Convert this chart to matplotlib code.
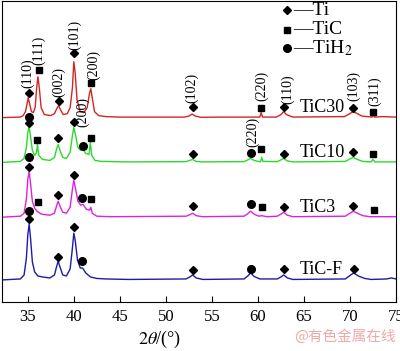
import matplotlib.pyplot as plt

plt.rcParams['font.family'] = ['Liberation Serif', 'DejaVu Serif']
plt.rcParams['mathtext.fontset'] = 'stix'

# XRD patterns: 2theta and intensity above each baseline (a.u.)
tic30_x = [32.2, 34.2, 34.5, 34.75, 34.95, 35.05, 35.2, 35.4, 35.6, 35.8, 35.95, 36.1, 36.25,
           36.45, 36.8, 37.5, 37.9, 38.15, 38.35, 38.55, 38.85, 39.3, 39.6, 39.85, 40.0, 40.15,
           40.35, 40.7, 41.1, 41.45, 41.7, 41.85, 42.0, 42.25, 42.7, 43.5, 45.0, 52.0, 52.5,
           52.85, 53.2, 53.8, 56.0, 60.2, 60.35, 60.5, 62.0, 62.5, 62.8, 63.1, 63.8, 69.4,
           70.0, 70.3, 70.7, 71.3, 72.4, 72.5, 72.65, 73.5, 75.0]
tic30_y = [0, 0.5, 2, 6, 15, 20, 14, 6, 5, 10, 28, 41, 30,
           10, 3, 2, 4, 9, 12, 8, 3, 4, 10, 30, 56, 45,
           18, 6, 5, 10, 24, 29, 20, 6, 2, 1, 0.5, 0.5, 1.5,
           3.5, 1.5, 0.3, 0.5, 0.5, 5, 0.5, 0.5, 3, 6, 3, 0.5, 1,
           4, 6, 4.5, 1.5, 0.5, 3, 0.5, 1, 0.5]

tic10_x = [32.2, 34.2, 34.6, 34.85, 35.0, 35.15, 35.3, 35.5, 35.75, 35.95, 36.05, 36.2, 36.6,
           37.4, 37.9, 38.15, 38.3, 38.5, 38.8, 39.2, 39.6, 39.85, 40.0, 40.2, 40.45, 40.75,
           41.0, 41.3, 41.65, 41.8, 41.95, 42.3, 43.0, 46.0, 52.2, 52.6, 52.9, 53.3, 54.0,
           58.5, 58.9, 59.2, 59.6, 60.1, 60.3, 60.4, 60.55, 62.1, 62.5, 62.8, 63.2, 63.8,
           69.5, 70.0, 70.35, 70.8, 71.4, 72.3, 72.5, 72.7, 75.0]
tic10_y = [0, 1, 4, 15, 30, 36, 26, 12, 7, 10, 18, 7, 3,
           2, 5, 14, 18, 12, 5, 4, 10, 27, 35, 27, 15, 12,
           13, 9, 8, 20, 7, 2, 1, 0.5, 0.8, 2, 3, 1, 0.5,
           0.8, 2.5, 4, 2, 0.8, 0.8, 5, 1, 0.8, 2.5, 4, 1.5, 0.5,
           1, 3.5, 5, 3, 1, 0.5, 3, 0.5, 0.5]

tic3_x = [32.2, 34.2, 34.6, 34.85, 35.0, 35.15, 35.3, 35.5, 35.75, 36.0, 36.5, 37.4, 37.9,
          38.15, 38.3, 38.5, 38.8, 39.2, 39.6, 39.85, 40.0, 40.2, 40.45, 40.75, 41.0, 41.35,
          41.7, 41.85, 42.0, 42.5, 44.0, 52.2, 52.6, 52.9, 53.3, 54.0, 58.5, 58.9, 59.2, 59.6,
          60.1, 60.4, 61.0, 62.1, 62.5, 62.8, 63.2, 63.8, 69.5, 70.0, 70.35, 70.8, 71.4, 72.2,
          75.0]
tic3_y = [0, 1, 4, 18, 38, 46, 34, 16, 9, 6, 3, 2, 4,
          12, 16, 11, 5, 4, 10, 28, 37, 28, 16, 12, 13, 8,
          7, 10, 4, 1, 0.5, 1, 2.5, 4, 1.5, 0.5, 1, 3.5, 6, 3,
          1, 1.5, 0.5, 1, 3, 5, 2, 0.5, 1, 4, 6, 4, 1.5, 0.5,
          0.5]

ticf_x = [32.2, 34.2, 34.6, 34.85, 35.0, 35.15, 35.3, 35.5, 35.75, 36.1, 36.6, 37.4, 37.9,
          38.15, 38.3, 38.5, 38.8, 39.2, 39.6, 39.85, 40.0, 40.15, 40.4, 40.7, 40.95, 41.3,
          41.8, 42.5, 43.5, 46.0, 52.2, 52.6, 52.9, 53.3, 54.0, 58.5, 58.9, 59.2, 59.6, 60.2,
          62.1, 62.5, 62.8, 63.2, 63.8, 69.5, 70.0, 70.4, 70.9, 71.6, 72.3, 74.0, 74.5, 75.0]
ticf_y = [0, 1, 5, 22, 45, 56, 42, 18, 8, 4, 3, 2, 5,
          14, 19, 13, 5, 4, 11, 32, 47, 40, 20, 12, 12, 7,
          3, 1.5, 1, 0.5, 1, 3, 5, 2, 0.5, 1, 4, 7, 3.5, 1,
          1, 3, 5, 2, 0.5, 1, 4.5, 7, 4, 1.5, 0.5, 1, 2, 1]

samples = ['TiC30', 'TiC10', 'TiC3', 'TiC-F']
curves_x = [tic30_x, tic10_x, tic3_x, ticf_x]
curves_y = [tic30_y, tic10_y, tic3_y, ticf_y]

# phase markers: (2theta, phase, height above baseline)
tic30_marks = [(35.1, 'Ti', 25), (36.25, 'TiC', 48), (38.35, 'Ti', 17), (40.05, 'Ti', 65),
               (41.9, 'TiC', 35), (52.9, 'Ti', 11), (60.35, 'TiC', 10), (62.8, 'Ti', 11),
               (70.3, 'Ti', 10), (72.5, 'TiC', 6)]
tic10_marks = [(35.1, 'TiH2', 46), (35.1, 'Ti', 40), (36.0, 'TiC', 22), (38.3, 'Ti', 25),
               (40.0, 'Ti', 41), (40.95, 'TiH2', 16), (41.9, 'TiC', 25), (52.9, 'Ti', 8),
               (59.2, 'TiH2', 9), (60.3, 'TiC', 13), (62.8, 'Ti', 8), (70.3, 'Ti', 10),
               (72.5, 'TiC', 8)]
tic3_marks = [(35.1, 'TiH2', 60), (35.1, 'Ti', 50), (36.1, 'TiC', 15), (38.3, 'Ti', 22),
              (40.0, 'Ti', 42), (40.9, 'TiH2', 19), (41.9, 'TiC', 18), (52.9, 'Ti', 11),
              (59.2, 'TiH2', 13), (60.4, 'TiC', 10), (62.8, 'Ti', 10), (70.3, 'Ti', 11),
              (72.6, 'TiC', 7)]
ticf_marks = [(35.1, 'TiH2', 69), (35.1, 'Ti', 61), (38.3, 'Ti', 23), (40.0, 'Ti', 53),
              (40.9, 'TiH2', 19), (52.9, 'Ti', 10), (59.2, 'TiH2', 11), (62.8, 'Ti', 11),
              (70.4, 'Ti', 11)]
marks = [tic30_marks, tic10_marks, tic3_marks, ticf_marks]

# (hkl) labels: (sample index, 2theta, height of label bottom above baseline, text)
hkl_labels = [(0, 35.0, 30, '(110)'), (0, 36.2, 53, '(111)'), (0, 38.3, 21, '(002)'),
              (0, 40.1, 68, '(101)'), (0, 42.1, 38, '(200)'), (0, 52.85, 15, '(102)'),
              (0, 60.4, 17, '(220)'), (0, 63.2, 14, '(110)'), (0, 70.4, 17, '(103)'),
              (0, 72.7, 12, '(311)'), (1, 40.95, 36, '(200)'), (1, 59.4, 15, '(220)')]

colors = ['#d42424', '#2ada2a', '#e020e0', '#1c1ca8']
baselines = [185, 140, 85, 22]
styles = {'Ti': ('D', 4), 'TiC': ('s', 5), 'TiH2': ('o', 5.5)}

fig = plt.figure(figsize=(4, 3.51), dpi=100)
ax = fig.add_axes([0.005, 0.14, 0.985, 0.857])

for i in range(len(samples)):
    b = baselines[i]
    ax.plot(curves_x[i], [v + b for v in curves_y[i]], color=colors[i], lw=1)
    for tt, ph, h in marks[i]:
        m, ms = styles[ph]
        ax.plot(tt, b + h, marker=m, ms=ms, color='black', ls='none')
    ax.text(64.5, b + 10, samples[i], fontsize=13, ha='left', va='center')

for i, tt, h, txt in hkl_labels:
    ax.text(tt, baselines[i] + h, txt, rotation=90, fontsize=10, ha='center', va='bottom')

# legend drawn by hand
leg = [('Ti', 293), ('TiC', 273), ('TiH2', 255)]
for ph, y in leg:
    m, ms = styles[ph]
    ax.plot(63.2, y, marker=m, ms=ms, color='black')
ax.text(63.85, 293, '—Ti', fontsize=14, va='center')
ax.text(63.85, 273, '—TiC', fontsize=14, va='center')
ax.text(63.85, 255, '—TiH$_2$', fontsize=14, va='center')

ax.set_xlim(32.2, 75)
ax.set_ylim(0, 302)
ax.set_xticks([35, 40, 45, 50, 55, 60, 65, 70, 75])
ax.tick_params(axis='x', direction='in', length=4, labelsize=12, pad=5)
ax.set_yticks([])
ax.set_xlabel(r'$\mathit{2\theta}$/(°)', fontsize=13, labelpad=2)
ax.xaxis.set_label_coords(0.40, -0.09)

fig.text(0.99, 0.02, '@有色金属在线', color='#f0a8a8', fontsize=10.5,
         family=['Noto Sans CJK SC', 'DejaVu Sans'], ha='right', va='bottom')

plt.savefig('out.png', dpi=100)
